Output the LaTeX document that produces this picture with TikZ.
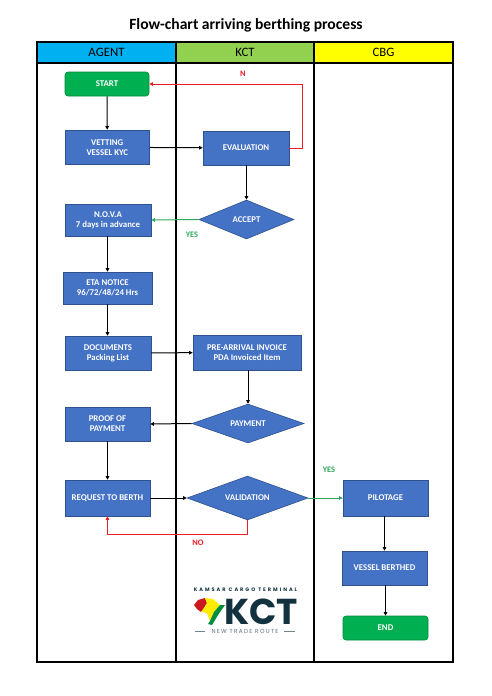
\documentclass[tikz,border=0pt]{standalone}
\usepackage{fontspec}
\setmainfont{Carlito}
\newfontfamily\logofont{Poppins}
\newfontfamily\logospaced[LetterSpace=22]{Poppins}
\newfontfamily\logowide[LetterSpace=40]{Poppins}
\usetikzlibrary{shapes.geometric,arrows.meta,calc}
\definecolor{boxblue}{HTML}{4472C4}
\definecolor{boxedge}{HTML}{2F528F}
\definecolor{startgreen}{HTML}{00B050}
\definecolor{hdrblue}{HTML}{00B0F0}
\definecolor{hdrgreen}{HTML}{92D050}
\definecolor{hdryellow}{HTML}{FFFF00}
\definecolor{yesgreen}{HTML}{2EA85A}
\definecolor{nored}{HTML}{EE1C25}
\definecolor{logonavy}{HTML}{12323F}
\tikzset{
  x=1pt,y=-1pt,
  flowtext/.style={text=white,font=\bfseries\fontsize{8.8}{10}\selectfont,align=center,inner sep=0pt},
  procbox/.style={flowtext,rectangle,draw=boxedge,fill=boxblue,line width=.6pt},
  termbox/.style={flowtext,rectangle,rounded corners=3pt,draw=startgreen!80!black,fill=startgreen,line width=.6pt},
  decbox/.style={flowtext,diamond,draw=boxedge,fill=boxblue,line width=.6pt},
  hdr/.style={font=\fontsize{12.8}{14}\selectfont,inner sep=0pt},
  flow/.style={line width=1pt,-{Triangle[length=3.5pt,width=3.5pt]}},
  flowok/.style={flow,draw=yesgreen},
  flowno/.style={flow,draw=nored},
  lbl/.style={font=\bfseries\fontsize{8.4}{10}\selectfont,inner sep=0pt},
  lane/.style={line width=1.7pt,draw=black}
}
\newcommand{\flowbox}[7]{\node[#1,minimum width=#4-#3,minimum height=#6-#5] (#2) at ({(#3+#4)/2},{(#5+#6)/2}) {#7};}
\newcommand{\flowdec}[7]{\pgfmathsetmacro{\flowaspect}{(#4-#3)/(#6-#5)}\node[decbox,aspect=\flowaspect,minimum width=#4-#3,minimum height=#6-#5] (#2) at ({(#3+#4)/2},{(#5+#6)/2}) {#7};}
\begin{document}
\begin{tikzpicture}
\useasboundingbox (0,0) rectangle (491,696);
\fill[white] (0,0) rectangle (491,696);
\node[font=\bfseries\fontsize{15.6}{18}\selectfont,inner sep=0pt] (title) at (246,25) {Flow-chart arriving berthing process};
% headers
\fill[hdrblue] (37,42) rectangle (176,63);
\fill[hdrgreen] (176,42) rectangle (314,63);
\fill[hdryellow] (314,42) rectangle (453,63);
\node[hdr] (hagent) at (106.5,52) {AGENT};
\node[hdr] (hkct) at (245,52) {KCT};
\node[hdr] (hcbg) at (383.5,52) {CBG};
% lanes
\draw[lane] (37,42) rectangle (453,662);
\draw[lane] (37,63) -- (453,63);
\draw[lane] (176,42) -- (176,662);
\draw[lane] (314,42) -- (314,662);
% nodes
\flowbox{termbox}{start}{65}{149}{72}{96}{START}
\flowbox{procbox}{vetting}{65}{149.5}{130}{164.5}{VETTING\\VESSEL KYC}
\flowbox{procbox}{evaluation}{203}{289}{131}{165}{EVALUATION}
\flowdec{accept}{accept}{199}{294}{200}{239}{ACCEPT}
\flowbox{procbox}{nova}{65}{151}{204}{236}{N.O.V.A\\7 days in advance}
\flowbox{procbox}{eta}{63}{152}{272}{304}{ETA NOTICE\\96/72/48/24 Hrs}
\flowbox{procbox}{documents}{65}{151}{336}{370}{DOCUMENTS\\Packing List}
\flowbox{procbox}{prearrival}{193}{301}{335}{370}{PRE-ARRIVAL INVOICE\\PDA Invoiced Item}
\flowdec{payment}{payment}{192}{304}{404}{443}{PAYMENT}
\flowbox{procbox}{proof}{65}{150}{407}{441}{PROOF OF\\PAYMENT}
\flowbox{procbox}{request}{65}{150}{480}{516}{REQUEST TO BERTH}
\flowdec{validation}{validation}{187}{308}{476}{520}{VALIDATION}
\flowbox{procbox}{pilotage}{343}{428}{480}{516}{PILOTAGE}
\flowbox{procbox}{berthed}{342}{427}{551}{585}{VESSEL BERTHED}
\flowbox{termbox}{finish}{343}{428}{616}{640}{END}
% connectors
\draw[flow] (start) -- (vetting);
\draw[flow] (vetting) -- (evaluation);
\draw[flow] (evaluation.south -| accept.north) -- (accept.north);
\draw[flowno] (evaluation.east) -- ++(13,0) |- (start.east);
\draw[flowok] (accept.west) -- (nova.east);
\draw[flow] (nova.south -| eta.north) -- (eta.north);
\draw[flow] (documents.north -| eta.south) ++(0,-32) -- (documents.north -| eta.south);
\draw[flow] (documents) -- (prearrival);
\draw[flow] (prearrival.south -| payment.north) -- (payment.north);
\draw[flow] (payment.west) -- (proof.east);
\draw[flow] (proof) -- (request);
\draw[flow] (request) -- (validation);
\draw[flowok] (validation.east) -- (pilotage.west);
\draw[flowno] (validation.south) -- ++(0,14) -| (request.south);
\draw[flow] (pilotage.south -| berthed.north) -- (berthed.north);
\draw[flow] (berthed.south -| finish.north) -- (finish.north);
% labels
\node[lbl,text=nored] (lbln) at (243,74) {N};
\node[lbl,text=yesgreen] (lblyes) at (192,235) {YES};
\node[lbl,text=yesgreen] (lblyes2) at (329,470) {YES};
\node[lbl,text=nored] (lblno) at (198,543) {NO};
% logo
\node[font=\logowide\bfseries\fontsize{5}{6}\selectfont,text=logonavy,inner sep=0pt] (kamsar) at (245.5,589.5) {KAMSAR  CARGO  TERMINAL};
\fill[nored!85!black] (194,605) -- (198,600) -- (205,598) -- (207,603) -- (204,608) -- (201,612) -- (197,609) -- cycle;
\fill[hdryellow!85!orange] (205,598) -- (213,599) -- (220,605) -- (214,612) -- (210,621) -- (207,613) -- (201,612) -- (204,608) -- (207,603) -- cycle;
\fill[startgreen!80!black] (220,605) -- (225,605) -- (218,615) -- (212,625) -- (208,624) -- (210,621) -- (214,612) -- cycle;
\node[font=\logofont\bfseries\fontsize{36}{38}\selectfont,text=logonavy,inner sep=0pt,anchor=south west,text height=25pt,text depth=0pt] (kct) at (224,625) {KCT};
\node[font=\logospaced\fontsize{5.8}{6}\selectfont,text=logonavy!70,inner sep=0pt] (route) at (245,631.5) {NEW TRADE ROUTE};
\coordinate (rl1) at (195,631.5); \coordinate (rr2) at (295,631.5);
\draw[logonavy!60,line width=.4pt] (rl1) -- ++(10,0);
\draw[logonavy!60,line width=.4pt] (rr2) -- ++(-11,0);
\end{tikzpicture}
\end{document}
